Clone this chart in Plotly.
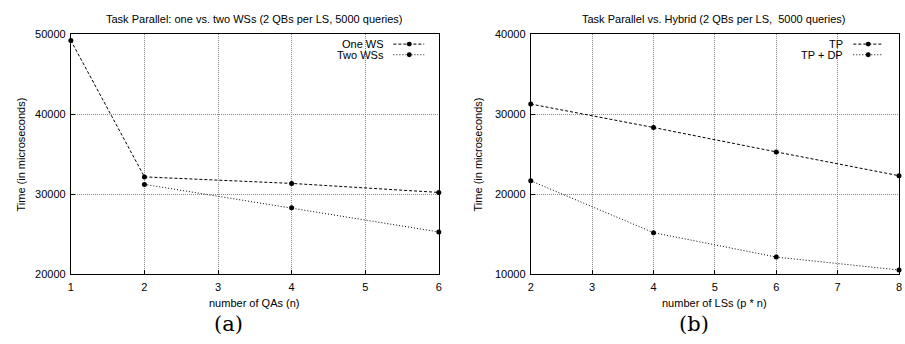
import plotly.graph_objects as go

# ---- data ----
qas = [1, 2, 4, 6]
one_ws = [49250, 32150, 31330, 30200]
qas_two = [2, 4, 6]
two_ws = [31210, 28270, 25250]

lss = [2, 4, 6, 8]
tp = [31280, 28340, 25280, 22300]
tp_dp = [21660, 15160, 12100, 10480]

left_xticks = [1, 2, 3, 4, 5, 6]
right_xticks = [2, 3, 4, 5, 6, 7, 8]
left_yticks = [20000, 30000, 40000, 50000]
right_yticks = [10000, 20000, 30000, 40000]

W, H = 905, 344
FONT = "Liberation Sans, Arial, sans-serif"

def px(x):
    return x / W

def py(y):
    return 1 - y / H

fig = go.Figure()

DASH = "3px,2px"
DOT = "1px,2px"

def add(x, y, dash, xa, ya):
    fig.add_trace(go.Scatter(
        x=x, y=y, mode="lines+markers", xaxis=xa, yaxis=ya,
        line=dict(color="black", width=1, dash=dash),
        marker=dict(color="black", size=5, symbol="circle"),
        cliponaxis=False, showlegend=False, hoverinfo="x+y"))

add(qas, one_ws, DASH, "x", "y")
add(qas_two, two_ws, DOT, "x", "y")
add(lss, tp, DASH, "x2", "y2")
add(lss, tp_dp, DOT, "x2", "y2")

top, bottom = 29.5, 277.5
ax_common = dict(
    showline=True, mirror=True, linecolor="black", linewidth=1,
    showgrid=True, gridcolor="#8a8a8a", griddash="1px,1px", gridwidth=1,
    zeroline=False, ticks="inside", ticklen=4, tickcolor="black",
    tickformat="d",
    tickfont=dict(family=FONT, size=11, color="black"),
)

fig.update_layout(
    width=W, height=H, margin=dict(l=0, r=0, t=0, b=0),
    paper_bgcolor="white", plot_bgcolor="white",
    xaxis=dict(domain=[px(68.3), px(438.7)], range=[1, 6], tickvals=left_xticks,
               anchor="y", ticklabelstandoff=3, **ax_common),
    yaxis=dict(domain=[py(bottom), py(top)], range=[20000, 50000], tickvals=left_yticks,
               anchor="x", ticklabelstandoff=2, **ax_common),
    xaxis2=dict(domain=[px(531.3), px(902.0)], range=[2, 8], tickvals=right_xticks,
                anchor="y2", ticklabelstandoff=3, **ax_common),
    yaxis2=dict(domain=[py(bottom), py(top)], range=[10000, 40000], tickvals=right_yticks,
                anchor="x2", ticklabelstandoff=2, **ax_common),
)

def ann(x, y, text, size=11, family=FONT, angle=0, xanchor="center"):
    fig.add_annotation(x=px(x), y=py(y), xref="paper", yref="paper", text=text,
                       showarrow=False, textangle=angle, xanchor=xanchor, yanchor="middle",
                       font=dict(family=family, size=size, color="black"))

# titles
ann(253, 13, "Task Parallel: one vs. two WSs (2 QBs per LS, 5000 queries)")
ann(716, 13, "Task Parallel vs. Hybrid (2 QBs per LS,  5000 queries)")
# axis titles
ann(253, 308, "number of QAs (n)")
ann(716, 308, "number of LSs (p * n)")
ann(18, 154, "Time (in microseconds)", angle=-90)
ann(478, 154, "Time (in microseconds)", angle=-90)
# captions
ann(227, 329, "(a)", size=21, family="DejaVu Serif, Liberation Serif, serif")
ann(696, 329, "(b)", size=21, family="DejaVu Serif, Liberation Serif, serif")

# custom legends (text right-aligned, sample on right)
def legend_item(text_right, y, x0, x1, xm, label, dash):
    ann(text_right, y, label, xanchor="right")
    fig.add_shape(type="line", xref="paper", yref="paper",
                  x0=px(x0), x1=px(x1), y0=py(y), y1=py(y),
                  line=dict(color="black", width=1, dash=dash))
    r = 2.5
    fig.add_shape(type="circle", xref="paper", yref="paper",
                  x0=px(xm - r), x1=px(xm + r), y0=py(y + r), y1=py(y - r),
                  fillcolor="black", line=dict(color="black", width=0))

legend_item(386, 39.5, 393, 424, 409, "One WS", DASH)
legend_item(386, 50.5, 393, 424, 409, "Two WSs", DOT)
legend_item(848, 39.5, 856, 886, 871, "TP", DASH)
legend_item(848, 50.5, 856, 886, 871, "TP + DP", DOT)

fig.write_html("out.html", config={"displayModeBar": False},
               post_script="document.body.style.margin='0';document.body.style.overflow='hidden';")
